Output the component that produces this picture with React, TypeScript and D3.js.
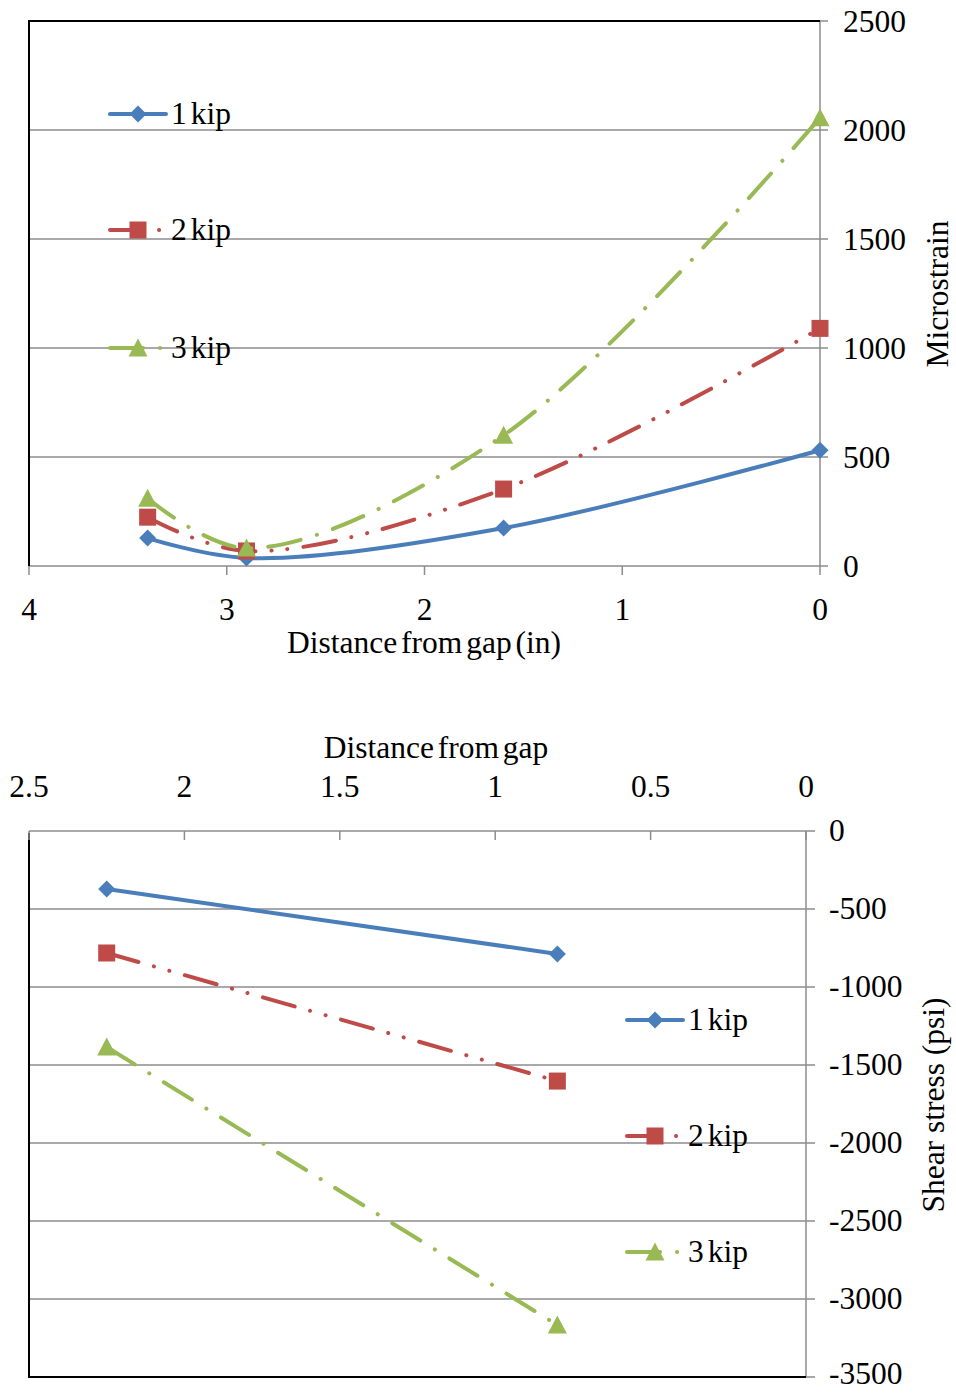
import React from "react";
import * as d3 from "d3";

// ---- Data: top chart (Microstrain vs distance) ----
const topDistance = [3.4, 2.9, 1.6, 0];
const strain1kip = [128, 37, 174, 531];
const strain2kip = [224, 69, 353, 1090];
const strain3kip = [311, 82, 600, 2056];
const topXTicks = [4, 3, 2, 1, 0];
const topYTicks = [0, 500, 1000, 1500, 2000, 2500];

// ---- Data: bottom chart (Shear stress vs distance) ----
const bottomDistance = [2.25, 0.8];
const shear1kip = [-372, -788];
const shear2kip = [-782, -1603];
const shear3kip = [-1385, -3167];
const bottomXTicks = [2.5, 2, 1.5, 1, 0.5, 0];
const bottomYTicks = [0, -500, -1000, -1500, -2000, -2500, -3000, -3500];

const seriesNames = ["1 kip", "2 kip", "3 kip"];

const BLUE = "#4A7EBB";
const RED = "#BE4B48";
const GREEN = "#98B954";
const GRID = "#8c8c8c";
const FONT = "'Liberation Serif', 'Times New Roman', serif";
const FS = 31.5;

const styles = [
  { color: BLUE, dash: "none", marker: "diamond" },
  { color: RED, dash: "33 16 0.1 16 0.1 16", marker: "square" },
  { color: GREEN, dash: "33 17 0.1 17", marker: "triangle" },
];

function Marker({ type, x, y, color }: { type: string; x: number; y: number; color: string }) {
  if (type === "diamond") {
    const s = 8.5;
    return <path d={`M${x},${y - s}L${x + s},${y}L${x},${y + s}L${x - s},${y}Z`} fill={color} />;
  }
  if (type === "square") {
    const s = 8.5;
    return <rect x={x - s} y={y - s} width={2 * s} height={2 * s} fill={color} />;
  }
  const s = 9.5;
  return <path d={`M${x},${y - s}L${x + s},${y + s - 1}L${x - s},${y + s - 1}Z`} fill={color} />;
}

function Legend({ x, ys }: { x: number; ys: number[] }) {
  return (
    <g>
      {seriesNames.map((name, i) => (
        <g key={name}>
          <line
            x1={x}
            x2={x + 56}
            y1={ys[i]}
            y2={ys[i]}
            stroke={styles[i].color}
            strokeWidth={4}
            strokeLinecap="round"
            strokeDasharray={styles[i].dash}
          />
          <Marker type={styles[i].marker} x={x + 28} y={ys[i]} color={styles[i].color} />
          <text x={x + 61} y={ys[i] + 10} fontFamily={FONT} fontSize={FS} wordSpacing={-4} fill="#000">
            {name}
          </text>
        </g>
      ))}
    </g>
  );
}

function TopChart() {
  const L = 29, R = 820, T = 21, B = 566;
  const x = d3.scaleLinear().domain([4, 0]).range([L, R]);
  const y = d3.scaleLinear().domain([0, 2500]).range([B, T]);
  const series = [strain1kip, strain2kip, strain3kip];
  const line = d3
    .line<[number, number]>()
    .x((d) => x(d[0]))
    .y((d) => y(d[1]))
    .curve(d3.curveCatmullRom.alpha(0.5));
  return (
    <g>
      {topYTicks.filter((t) => t > 0 && t < 2500).map((t) => (
        <line key={t} x1={L} x2={R} y1={y(t)} y2={y(t)} stroke={GRID} strokeWidth={1.5} />
      ))}
      <line x1={R} x2={R} y1={T} y2={B} stroke={GRID} strokeWidth={1.5} />
      <line x1={L} x2={R} y1={B} y2={B} stroke={GRID} strokeWidth={1.5} />
      <line x1={L} x2={L} y1={T - 1} y2={B} stroke="#000" strokeWidth={2} />
      <line x1={L} x2={R} y1={T} y2={T} stroke="#000" strokeWidth={2} />
      {topYTicks.map((t) => (
        <g key={t}>
          <line x1={R} x2={R + 8} y1={y(t)} y2={y(t)} stroke={GRID} strokeWidth={1.5} />
          <text x={843} y={y(t) + 11} fontFamily={FONT} fontSize={FS} fill="#000">
            {t}
          </text>
        </g>
      ))}
      {topXTicks.map((t) => (
        <g key={t}>
          <line x1={x(t)} x2={x(t)} y1={B} y2={B + 9} stroke={GRID} strokeWidth={1.5} />
          <text x={x(t)} y={620} textAnchor="middle" fontFamily={FONT} fontSize={FS} fill="#000">
            {t}
          </text>
        </g>
      ))}
      <text x={424} y={653} textAnchor="middle" fontFamily={FONT} fontSize={FS} wordSpacing={-4} fill="#000">
        Distance from gap (in)
      </text>
      <text
        transform={`translate(948,294) rotate(-90)`}
        textAnchor="middle"
        fontFamily={FONT}
        fontSize={FS}
        fill="#000"
      >
        Microstrain
      </text>
      {series.map((vals, i) => {
        const pts = topDistance.map((d, j) => [d, vals[j]] as [number, number]);
        return (
          <g key={i}>
            <path
              d={line(pts) || ""}
              fill="none"
              stroke={styles[i].color}
              strokeWidth={4}
              strokeLinecap="round"
              strokeDasharray={styles[i].dash}
            />
            {pts.map((p, j) => (
              <Marker key={j} type={styles[i].marker} x={x(p[0])} y={y(p[1])} color={styles[i].color} />
            ))}
          </g>
        );
      })}
      <Legend x={110} ys={[114, 230, 348]} />
    </g>
  );
}

function BottomChart() {
  const L = 29, R = 806, T = 831, B = 1377;
  const x = d3.scaleLinear().domain([2.5, 0]).range([L, R]);
  const y = d3.scaleLinear().domain([0, -3500]).range([T, B]);
  const series = [shear1kip, shear2kip, shear3kip];
  const line = d3
    .line<[number, number]>()
    .x((d) => x(d[0]))
    .y((d) => y(d[1]));
  return (
    <g>
      {bottomYTicks.filter((t) => t < 0 && t > -3500).map((t) => (
        <line key={t} x1={L} x2={R} y1={y(t)} y2={y(t)} stroke={GRID} strokeWidth={1.5} />
      ))}
      <line x1={L} x2={R} y1={T} y2={T} stroke={GRID} strokeWidth={1.5} />
      <line x1={R} x2={R} y1={T} y2={B} stroke={GRID} strokeWidth={1.5} />
      <line x1={L} x2={L} y1={T + 2} y2={B + 1} stroke="#000" strokeWidth={2} />
      <line x1={L} x2={R} y1={B} y2={B} stroke="#000" strokeWidth={2} />
      {bottomYTicks.map((t) => (
        <g key={t}>
          <line x1={R} x2={R + 9} y1={y(t)} y2={y(t)} stroke={GRID} strokeWidth={1.5} />
          <text x={829} y={Math.min(y(t) + 10, 1384)} fontFamily={FONT} fontSize={FS} fill="#000">
            {t}
          </text>
        </g>
      ))}
      {bottomXTicks.map((t) => (
        <g key={t}>
          <line x1={x(t)} x2={x(t)} y1={T} y2={T + 9} stroke={GRID} strokeWidth={1.5} />
          <text x={x(t)} y={797} textAnchor="middle" fontFamily={FONT} fontSize={FS} fill="#000">
            {t}
          </text>
        </g>
      ))}
      <text x={436} y={758} textAnchor="middle" fontFamily={FONT} fontSize={FS} wordSpacing={-4} fill="#000">
        Distance from gap
      </text>
      <text
        transform={`translate(944,1105) rotate(-90)`}
        textAnchor="middle"
        fontFamily={FONT}
        fontSize={FS}
        fill="#000"
      >
        Shear stress (psi)
      </text>
      {series.map((vals, i) => {
        const pts = bottomDistance.map((d, j) => [d, vals[j]] as [number, number]);
        return (
          <g key={i}>
            <path
              d={line(pts) || ""}
              fill="none"
              stroke={styles[i].color}
              strokeWidth={4}
              strokeLinecap="round"
              strokeDasharray={styles[i].dash}
            />
            {pts.map((p, j) => (
              <Marker key={j} type={styles[i].marker} x={x(p[0])} y={y(p[1])} color={styles[i].color} />
            ))}
          </g>
        );
      })}
      <Legend x={627} ys={[1020, 1136, 1252]} />
    </g>
  );
}

export default function App() {
  return (
    <svg
      width={956}
      height={1393}
      viewBox="0 0 956 1393"
      style={{ position: "absolute", left: 0, top: 0, background: "#fff" }}
    >
      <rect width={956} height={1393} fill="#fff" />
      <TopChart />
      <BottomChart />
    </svg>
  );
}
